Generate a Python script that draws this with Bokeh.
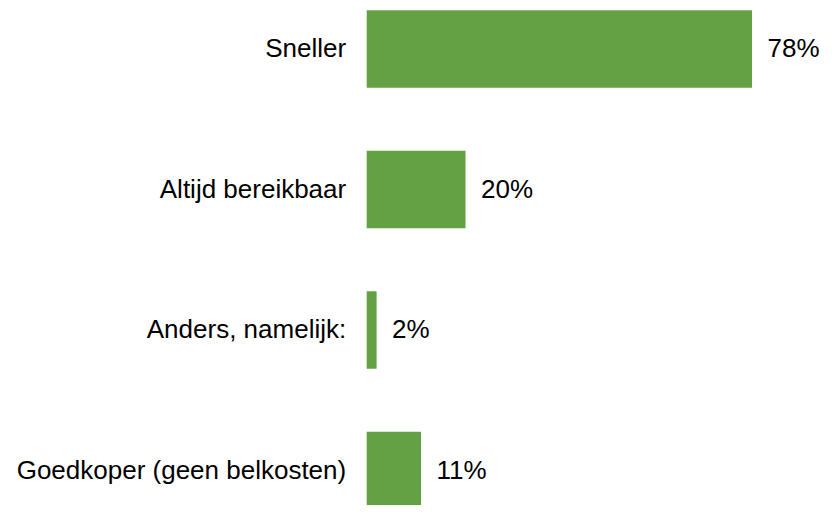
from bokeh.plotting import figure
from bokeh.models import ColumnDataSource, Range1d
from bokeh.core.properties import value
from bokeh.embed import file_html
from bokeh.resources import INLINE

categories = ["Sneller", "Altijd bereikbaar", "Anders, namelijk:", "Goedkoper (geen belkosten)"]
values = [78, 20, 2, 11]
value_labels = ["78%", "20%", "2%", "11%"]

ypos = list(range(len(categories)))
src = ColumnDataSource(dict(y=ypos, v=values, cat=categories, lab=value_labels, zero=[0] * len(values)))

W, H = 822, 505
px_per_unit_x = 4.94
x0_px = 366.2
row_px = 140.5
first_center_px = 48.5
bar_px = 77.5

p = figure(width=W, height=H, output_backend="svg", toolbar_location=None,
           x_range=Range1d(-x0_px / px_per_unit_x, (W - x0_px) / px_per_unit_x),
           y_range=Range1d((H - first_center_px) / row_px, -first_center_px / row_px),
           min_border=0, outline_line_color=None)
p.axis.visible = False
p.grid.visible = False
p.background_fill_color = "white"

p.hbar(y="y", left=0, right="v", height=bar_px / row_px, source=src,
       fill_color="#64a044", line_color=None)

p.text(x="zero", y="y", text="cat", source=src, x_offset=-20.5, y_offset=-1,
       text_align="right", text_baseline="middle",
       text_font=value("Liberation Sans"), text_font_size="26px", text_color="#000000")
p.text(x="v", y="y", text="lab", source=src, x_offset=15.5, y_offset=-1,
       text_align="left", text_baseline="middle",
       text_font=value("Liberation Sans"), text_font_size="26px", text_color="#000000")

open("out.html", "w").write(file_html(p, INLINE))
